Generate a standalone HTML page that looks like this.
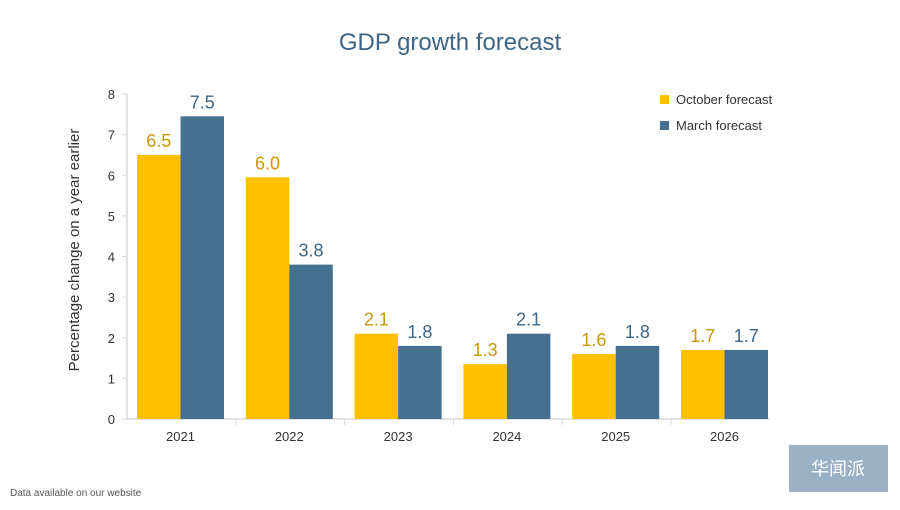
<!DOCTYPE html>
<html><head><meta charset="utf-8"><style>
body{margin:0;background:#fff;width:900px;height:505px;overflow:hidden;font-family:"Liberation Sans","Noto Sans CJK SC",sans-serif}
</style></head><body>
<svg width="900" height="505" id="c" style="font-family:'Liberation Sans','Noto Sans CJK SC',sans-serif">
<text x="450" y="50" text-anchor="middle" font-size="24" fill="#3d6585">GDP growth forecast</text>
<text transform="translate(79,250) rotate(-90)" text-anchor="middle" font-size="15" fill="#333">Percentage change on a year earlier</text>
<rect x="660" y="95" width="9" height="9" fill="#ffc000"/>
<text x="676" y="104" font-size="13" fill="#333">October forecast</text>
<rect x="660" y="121" width="9" height="9" fill="#46708f"/>
<text x="676" y="130" font-size="13" fill="#333">March forecast</text>
<text x="10" y="496" font-size="10" fill="#555">Data available on our website</text>
<rect x="789" y="445" width="99" height="47" fill="#9ab1c5"/>
<text x="838" y="475" text-anchor="middle" font-size="18" fill="#fff">华闻派</text>
<g id="g"></g>
</svg>
<script>
const categories=["2021","2022","2023","2024","2025","2026"];
const octoberValues=[6.5,5.95,2.1,1.35,1.6,1.7];
const marchValues=[7.45,3.8,1.8,2.1,1.8,1.7];
const octoberLabels=["6.5","6.0","2.1","1.3","1.6","1.7"];
const marchLabels=["7.5","3.8","1.8","2.1","1.8","1.7"];
const yTicks=[0,1,2,3,4,5,6,7,8];
const NS="http://www.w3.org/2000/svg",g=document.getElementById('g');
const y0=419,yTop=94,x0=127,x1=770,gw=108.8;
const ys=v=>y0-v*(y0-yTop)/8;
function mk(t,a,txt){const e=document.createElementNS(NS,t);for(const k in a)e.setAttribute(k,a[k]);if(txt!==undefined)e.textContent=txt;g.appendChild(e);return e;}
mk('line',{x1:x0,y1:yTop,x2:x0,y2:y0,stroke:'#d9d9d9','stroke-width':1.5});
mk('line',{x1:x0,y1:y0,x2:x1,y2:y0,stroke:'#d9d9d9','stroke-width':1.5});
yTicks.forEach(t=>{
 const l=mk('line',{x1:x0-5,y1:ys(t),x2:x0,y2:ys(t),stroke:'#d9d9d9'});
 
 
 const e=mk('text',{x:x0-12,y:ys(t)+5,'text-anchor':'end','font-size':13,fill:'#333'},String(t));
 
 
});
categories.forEach((c,i)=>{
 const gx=x0+i*gw,bw=43.5,bx=gx+10;
 if(i>0){mk('line',{x1:gx,y1:y0,x2:gx,y2:y0+6,stroke:'#d9d9d9'});}
 const a=mk('rect',{x:bx,y:ys(octoberValues[i]),width:bw,height:y0-ys(octoberValues[i]),fill:'#ffc000'});
 
 
 const b=mk('rect',{x:bx+bw,y:ys(marchValues[i]),width:bw,height:y0-ys(marchValues[i]),fill:'#46708f'});
 
 
 const la=mk('text',{x:bx+bw/2,y:ys(octoberValues[i])-8,'text-anchor':'middle','font-size':18,fill:'#c9960c'},octoberLabels[i]);
 
 
 const lb=mk('text',{x:bx+bw*1.5,y:ys(marchValues[i])-8,'text-anchor':'middle','font-size':18,fill:'#3d6585'},marchLabels[i]);
 
 
 const cl=mk('text',{x:bx+bw,y:y0+22,'text-anchor':'middle','font-size':13,fill:'#333'},c);
 
 
});
</script>
</body></html>
